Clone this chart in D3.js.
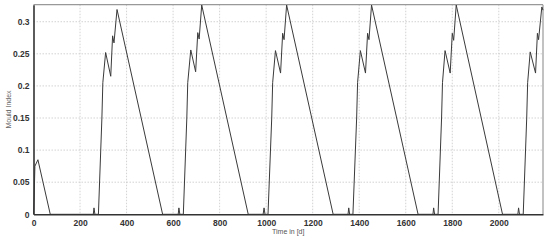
<!DOCTYPE html>
<html>
<head>
<meta charset="utf-8">
<script src="https://cdn.jsdelivr.net/npm/d3@7"></script>
<style>
  html, body { margin: 0; padding: 0; background: #fff; }
  svg { display: block; }
</style>
</head>
<body>
<svg id="chart" width="550" height="240"></svg>
<script>
// ---- data ----
const days = [
  0, 3, 6, 19, 72,
  257, 260, 264, 279, 294, 298, 310, 332, 340, 346, 359, 555,
  622, 625, 629, 644, 659, 663, 676, 697, 706, 712, 723, 923,
  987, 991, 995, 1008, 1024, 1028, 1040, 1062, 1071, 1077, 1088, 1288,
  1352, 1355, 1359, 1373, 1389, 1393, 1405, 1427, 1436, 1442, 1453, 1653,
  1717, 1720, 1724, 1739, 1754, 1758, 1769, 1791, 1800, 1806, 1817, 2016,
  2082, 2085, 2089, 2105, 2120, 2124, 2135, 2158, 2166, 2171, 2185, 2190
];
const mould = [
  0, 0.03, 0.075, 0.085, 0,
  0, 0.010, 0, 0, 0.15, 0.205, 0.252, 0.215, 0.278, 0.267, 0.319, 0,
  0, 0.010, 0, 0, 0.15, 0.205, 0.256, 0.222, 0.283, 0.273, 0.326, 0,
  0, 0.010, 0, 0, 0.15, 0.205, 0.255, 0.220, 0.282, 0.272, 0.326, 0,
  0, 0.010, 0, 0, 0.15, 0.205, 0.255, 0.220, 0.282, 0.272, 0.326, 0,
  0, 0.010, 0, 0, 0.15, 0.205, 0.255, 0.220, 0.282, 0.271, 0.326, 0,
  0, 0.010, 0, 0, 0.15, 0.205, 0.253, 0.220, 0.282, 0.272, 0.323, 0.318
];
const xTicks = [0, 200, 400, 600, 800, 1000, 1200, 1400, 1600, 1800, 2000];
const yTicks = [0, 0.05, 0.1, 0.15, 0.2, 0.25, 0.3];
const xLabel = "Time in [d]";
const yLabel = "Mould Index";

// ---- layout ----
const svg = d3.select("#chart");
const L = 33.5, R = 543, T = 4.7, B = 214.3;
const x = d3.scaleLinear().domain([0, 2190]).range([L, R]);
const y = d3.scaleLinear().domain([0, 0.3265]).range([B, T]);

// gridlines
const grid = svg.append("g");
grid.selectAll("line.gx").data(xTicks.filter(d => d > 0)).enter().append("line")
  .attr("x1", d => x(d)).attr("x2", d => x(d)).attr("y1", T).attr("y2", B)
  .attr("stroke", "#c8c8c8").attr("stroke-width", 0.8).attr("stroke-dasharray", "1.5,1.5");
grid.selectAll("line.gy").data(yTicks.filter(d => d > 0)).enter().append("line")
  .attr("y1", d => y(d)).attr("y2", d => y(d)).attr("x1", L).attr("x2", R)
  .attr("stroke", "#c8c8c8").attr("stroke-width", 0.8).attr("stroke-dasharray", "1.5,1.5");

// frame top/right
svg.append("line").attr("x1", L).attr("x2", R).attr("y1", T).attr("y2", T)
  .attr("stroke", "#999").attr("stroke-width", 1.2);
svg.append("line").attr("x1", R).attr("x2", R).attr("y1", T).attr("y2", B)
  .attr("stroke", "#999").attr("stroke-width", 1.2);

// data line
const pts = days.map((d, i) => [d, mould[i]]);
svg.append("path").datum(pts)
  .attr("fill", "none").attr("stroke", "#3a3a3a").attr("stroke-width", 1)
  .attr("stroke-linejoin", "miter")
  .attr("d", d3.line().x(d => x(d[0])).y(d => y(d[1])));

// axes
const xAxis = d3.axisBottom(x).tickValues(xTicks).tickSize(0).tickPadding(6).tickFormat(d3.format("d"));
const gx = svg.append("g").attr("transform", `translate(0,${B})`).call(xAxis);
gx.select(".domain").attr("stroke", "#333").attr("stroke-width", 1.6);
gx.selectAll("text").attr("font-family", "Liberation Sans, Arial, sans-serif")
  .attr("font-size", 8.5).attr("font-weight", "bold").attr("fill", "#333");

const yAxis = d3.axisLeft(y).tickValues(yTicks).tickSize(0).tickPadding(4)
  .tickFormat(d => d === 0 ? "0" : d3.format("")(+d.toFixed(2)));
const gy = svg.append("g").attr("transform", `translate(${L},0)`).call(yAxis);
gy.select(".domain").attr("stroke", "#333").attr("stroke-width", 1.6);
gy.selectAll("text").attr("font-family", "Liberation Sans, Arial, sans-serif")
  .attr("font-size", 8.5).attr("font-weight", "bold").attr("fill", "#333");

// labels
svg.append("text").attr("x", (L + R) / 2).attr("y", 233.5).attr("text-anchor", "middle")
  .attr("font-family", "Liberation Sans, Arial, sans-serif").attr("font-size", 7)
  .attr("fill", "#555").text(xLabel);
svg.append("text").attr("transform", `translate(10.5,${(T + B) / 2}) rotate(-90)`)
  .attr("text-anchor", "middle")
  .attr("font-family", "Liberation Sans, Arial, sans-serif").attr("font-size", 7)
  .attr("fill", "#666").text(yLabel);
</script>
</body>
</html>
